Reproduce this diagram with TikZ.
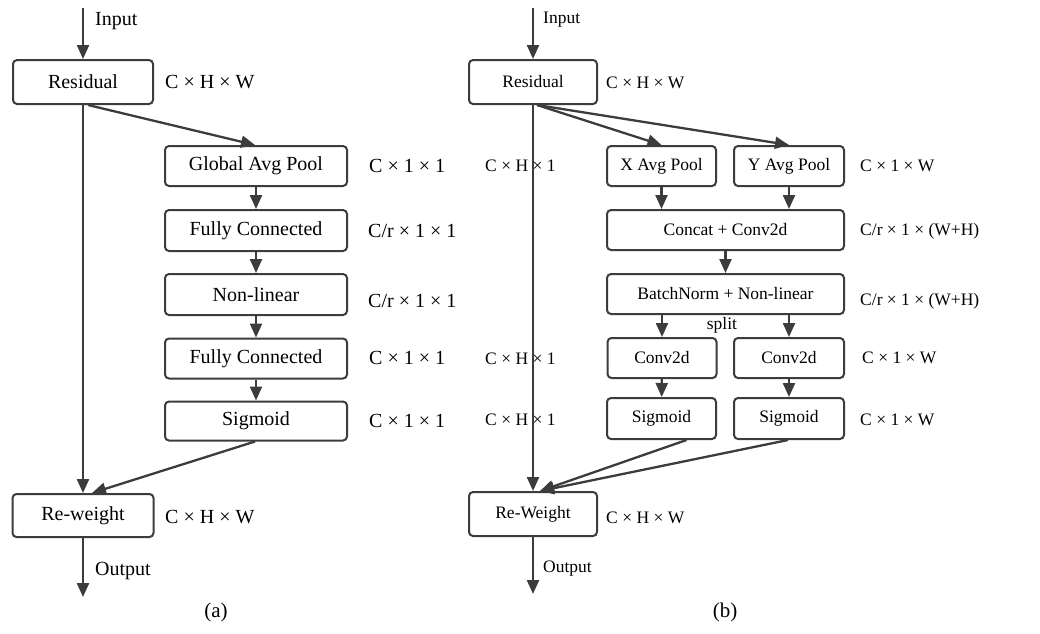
\documentclass[tikz,border=0pt]{standalone}
\usepackage{fontspec}
\setmainfont{Liberation Serif}
\usetikzlibrary{arrows.meta,calc}
\definecolor{ln}{HTML}{3C3C3C}
\tikzset{
  box/.style={draw=ln, line width=2pt, rounded corners=4pt, inner sep=0pt, fill=white},
  boxa/.style={box, font=\fontsize{20}{24}\selectfont},
  boxb/.style={box, font=\fontsize{17.5}{21}\selectfont},
  laba/.style={anchor=west, inner sep=0pt, font=\fontsize{20}{24}\selectfont},
  labb/.style={anchor=west, inner sep=0pt, font=\fontsize{17.5}{21}\selectfont},
  arr/.style={draw=ln, line width=2.3pt, -{Triangle[length=14pt,width=12pt]}},
  captext/.style={inner sep=0pt, font=\fontsize{21}{25}\selectfont}
}
\begin{document}
\begin{tikzpicture}[x=1pt,y=-1pt]
\useasboundingbox (0,0) rectangle (1040,633);
% ---------- (a) ----------
\node[boxa, minimum width=140pt, minimum height=44pt] (resa) at (83,82) {Residual};
\node[boxa, minimum width=182pt, minimum height=40pt] (gap) at (256,166) {Global Avg Pool};
\node[boxa, minimum width=182pt, minimum height=41pt] (fc1) at (256,230.5) {Fully Connected};
\node[boxa, minimum width=182pt, minimum height=41pt] (nl) at (256,294.5) {Non-linear};
\node[boxa, minimum width=182pt, minimum height=40pt] (fc2) at (256,358.5) {Fully Connected};
\node[boxa, minimum width=182pt, minimum height=39pt] (sga) at (256,421) {Sigmoid};
\node[boxa, minimum width=141pt, minimum height=43pt] (rwa) at (83,515.5) {Re-weight};
\coordinate (ina) at (83,8);
\coordinate (outa) at (83,597);
\node[laba] (tin) at (95,21) {Input};
\node[laba] (tout) at (95,571) {Output};
\node[laba] (la1) at (165,82) {C × H × W};
\node[laba] (la2) at (369,166) {C × 1 × 1};
\node[laba] (la3) at (368,231) {C/r × 1 × 1};
\node[laba] (la4) at (368,301) {C/r × 1 × 1};
\node[laba] (la5) at (369,358) {C × 1 × 1};
\node[laba] (la6) at (369,421) {C × 1 × 1};
\node[laba] (la7) at (165,517) {C × H × W};
\node[captext] (capa) at (216,612) {(a)};
\draw[arr] (ina) -- (resa.north);
\draw[arr] ($(resa.south)+(5,0)$) -- ($(gap.north)+(-1,0)$);
\draw[arr] (gap) -- (fc1);
\draw[arr] (fc1) -- (nl);
\draw[arr] (nl) -- (fc2);
\draw[arr] (fc2) -- (sga);
\draw[arr] (resa.south) -- (rwa.north);
\draw[arr] ($(sga.south)+(-1,0)$) -- ($(rwa.north)+(9,0)$);
\draw[arr] (rwa.south) -- (outa);
% ---------- (b) ----------
\node[labb] (lb2) at (485,166) {C × H × 1};
\node[labb] (lb3) at (485,359) {C × H × 1};
\node[labb] (lb4) at (485,420) {C × H × 1};
\node[boxb, minimum width=128pt, minimum height=44pt] (resb) at (533,82) {Residual};
\node[boxb, minimum width=109pt, minimum height=40pt] (xap) at (661.5,166) {X Avg Pool};
\node[boxb, minimum width=110pt, minimum height=40pt] (yap) at (789,166) {Y Avg Pool};
\node[boxb, minimum width=237pt, minimum height=40pt] (cat) at (725.5,230) {Concat + Conv2d};
\node[boxb, minimum width=237pt, minimum height=40pt] (bn) at (725.5,294) {BatchNorm + Non-linear};
\node[boxb, minimum width=109pt, minimum height=40pt] (cv1) at (662,358) {Conv2d};
\node[boxb, minimum width=110pt, minimum height=40pt] (cv2) at (789,358) {Conv2d};
\node[boxb, minimum width=109pt, minimum height=41pt] (sg1) at (661.5,418.5) {Sigmoid};
\node[boxb, minimum width=110pt, minimum height=41pt] (sg2) at (789,418.5) {Sigmoid};
\node[boxb, minimum width=128pt, minimum height=44pt] (rwb) at (533,514) {Re-Weight};
\coordinate (inb) at (533,8);
\coordinate (outb) at (533,594);
\node[labb] (tinb) at (543,20) {Input};
\node[labb] (toutb) at (543,569) {Output};
\node[labb] (lb1) at (606,83) {C × H × W};
\node[labb] (lb5) at (860,166) {C × 1 × W};
\node[labb] (lb6) at (860,231) {C/r × 1 × (W+H)};
\node[labb] (lb7) at (860,301) {C/r × 1 × (W+H)};
\node[labb] (lb8) at (862,358) {C × 1 × W};
\node[labb] (lb9) at (860,420) {C × 1 × W};
\node[labb] (lb10) at (606,518) {C × H × W};
\node[inner sep=0pt, font=\fontsize{17.5}{21}\selectfont] (split) at (722,325) {split};
\node[captext] (capb) at (725,612) {(b)};
\draw[arr] (inb) -- (resb.north);
\draw[arr] ($(resb.south)+(4,0)$) -- (xap.north);
\draw[arr] ($(resb.south)+(4,0)$) -- (yap.north);
\draw[arr] (xap) -- (xap |- cat.north);
\draw[arr] (yap) -- (yap |- cat.north);
\draw[arr] (cat) -- (bn);
\draw[arr] (bn.south -| cv1) -- (cv1);
\draw[arr] (bn.south -| cv2) -- (cv2);
\draw[arr] (cv1) -- (sg1);
\draw[arr] (cv2) -- (sg2);
\draw[arr] (resb.south) -- (rwb.north);
\draw[arr] ($(sg1.south)+(25,0)$) -- ($(rwb.north)+(7,0)$);
\draw[arr] ($(sg2.south)+(-1,0)$) -- ($(rwb.north)+(7,0)$);
\draw[arr] (rwb.south) -- (outb);
\end{tikzpicture}
\end{document}
